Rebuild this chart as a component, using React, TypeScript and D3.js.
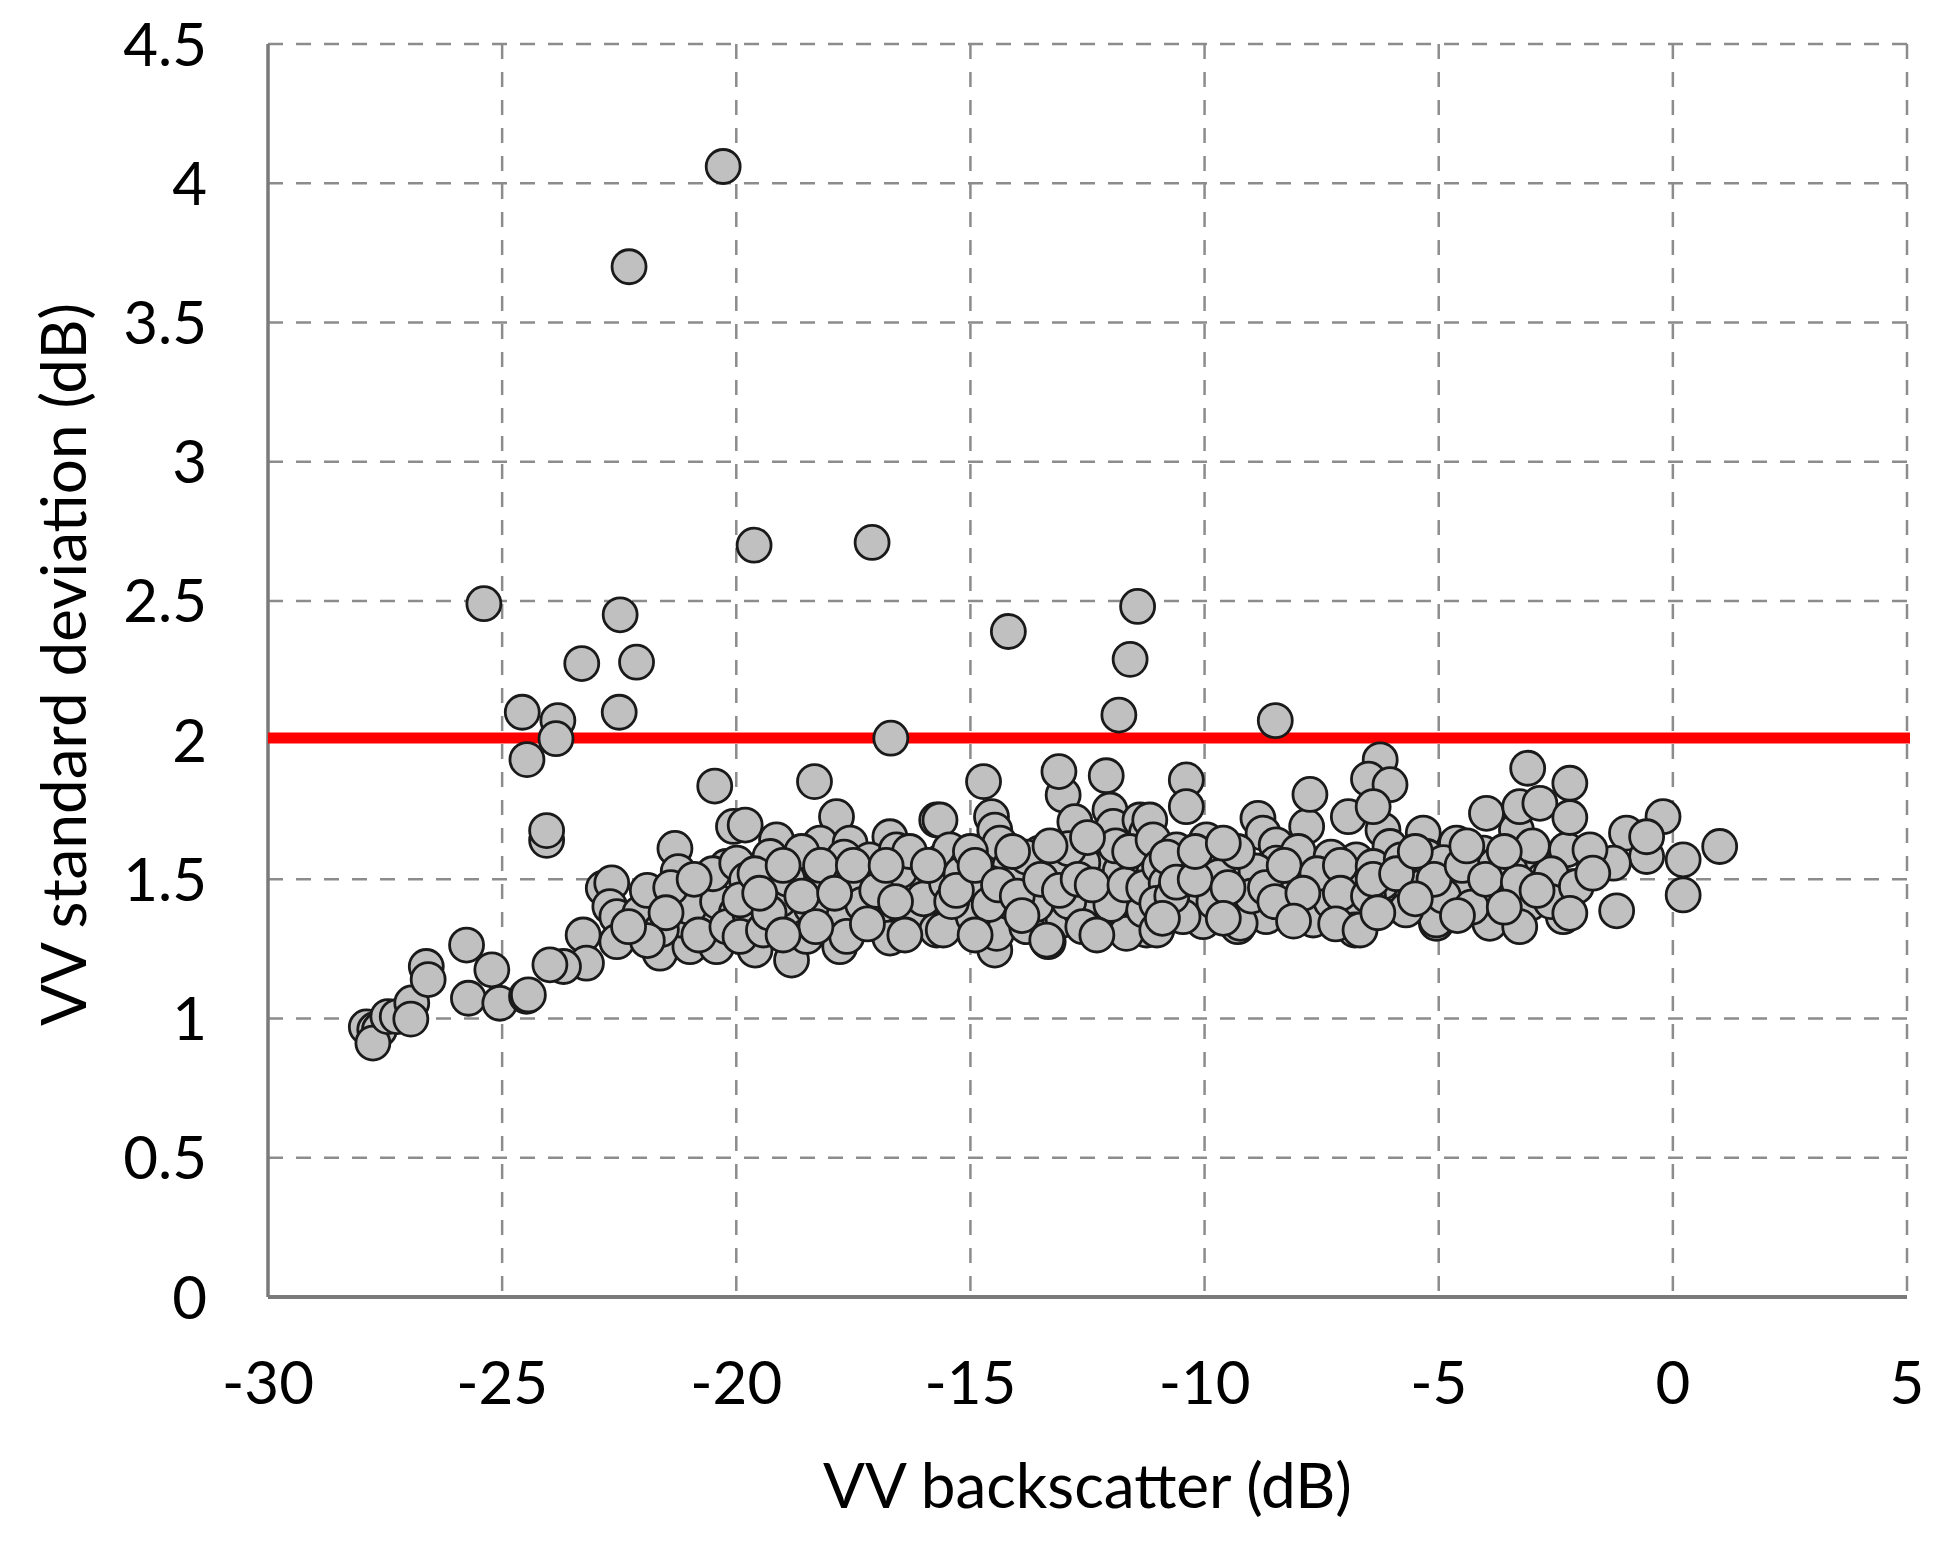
import React from "react";
import * as d3 from "d3";

// ---------- data (VV backscatter dB, VV standard deviation dB) ----------
const xTicks = [-30, -25, -20, -15, -10, -5, 0, 5];
const yTicks = [0, 0.5, 1, 1.5, 2, 2.5, 3, 3.5, 4, 4.5];
const threshold = 2;
const xTitle = "VV backscatter (dB)";
const yTitle = "VV standard deviation (dB)";

const leftTail: [number, number][] = [
  [-27.9, 0.97], [-27.72, 0.96], [-27.62, 0.96], [-27.76, 0.912], [-27.44, 1.007],
  [-27.24, 1.007], [-26.93, 1.056], [-26.95, 0.998], [-26.62, 1.187], [-26.58, 1.14],
  [-25.76, 1.264], [-25.22, 1.175], [-25.72, 1.073], [-25.05, 1.055], [-24.48, 1.08],
];

const outliers: [number, number][] = [
  [-20.28, 4.06], [-22.29, 3.7], [-19.62, 2.7], [-17.1, 2.71], [-25.39, 2.49],
  [-22.48, 2.45], [-22.13, 2.28], [-23.3, 2.275], [-22.5, 2.1], [-24.57, 2.1],
  [-23.81, 2.07], [-23.85, 2.005], [-24.47, 1.93], [-14.19, 2.39], [-11.43, 2.48],
  [-11.59, 2.29], [-11.83, 2.09], [-8.49, 2.07], [-16.7, 2.007],
];

const upperEdge: [number, number][] = [
  [-24.05, 1.64], [-24.05, 1.675], [-20.46, 1.835], [-18.33, 1.851], [-14.72, 1.851],
  [-13.11, 1.887], [-12.1, 1.872], [-10.39, 1.857], [-10.39, 1.761], [-6.25, 1.929],
  [-6.5, 1.86], [-6.04, 1.84], [-6.4, 1.761], [-7.75, 1.805], [-3.1, 1.899],
  [-2.2, 1.845], [-2.2, 1.722], [-0.21, 1.725], [1.0, 1.618], [0.22, 1.57],
  [0.22, 1.444], [-0.99, 1.666], [-0.56, 1.582], [-0.56, 1.653], [-1.27, 1.558],
  [-1.2, 1.387], [-1.77, 1.606], [-2.06, 1.474], [-1.71, 1.522], [-2.2, 1.378],
];

const clusterWest: [number, number][] = [
  [-20.06, 1.69], [-21.31, 1.611], [-21.24, 1.528], [-22.84, 1.468], [-22.66, 1.487],
  [-21.7, 1.438], [-22.7, 1.402], [-22.55, 1.366], [-22.55, 1.276], [-23.27, 1.3],
  [-23.2, 1.199], [-23.69, 1.187], [-23.98, 1.193], [-24.44, 1.085], [-21.98, 1.33],
  [-22.06, 1.378], [-21.63, 1.235], [-20.99, 1.258], [-20.42, 1.258], [-21.28, 1.402],
  [-20.78, 1.474], [-20.63, 1.354], [-20.21, 1.546], [-20.13, 1.45], [-21.2, 1.354],
  [-21.6, 1.32], [-21.0, 1.4], [-20.4, 1.42], [-20.0, 1.38], [-20.5, 1.52],
  [-21.9, 1.46], [-21.4, 1.47], [-20.9, 1.5], [-21.5, 1.38], [-20.8, 1.3],
  [-20.2, 1.33], [-21.9, 1.28], [-22.3, 1.33],
];

const clusterMidWest: [number, number][] = [
  [-15.72, 1.713], [-19.81, 1.695], [-17.86, 1.725], [-18.21, 1.63], [-19.14, 1.642],
  [-17.57, 1.63], [-16.72, 1.653], [-19.28, 1.582], [-19.99, 1.558], [-18.0, 1.522],
  [-17.22, 1.51], [-16.15, 1.558], [-15.58, 1.57], [-18.71, 1.558], [-19.21, 1.474],
  [-19.78, 1.498], [-18.36, 1.45], [-17.64, 1.438], [-16.79, 1.462], [-15.86, 1.474],
  [-19.71, 1.378], [-18.85, 1.354], [-17.79, 1.354], [-16.93, 1.402], [-16.29, 1.378],
  [-15.72, 1.318], [-19.6, 1.246], [-18.82, 1.21], [-17.79, 1.258], [-17.64, 1.295],
  [-18.5, 1.295], [-16.72, 1.289], [-19.92, 1.295], [-19.42, 1.318], [-19.92, 1.426],
  [-19.07, 1.426], [-17.15, 1.57], [-16.58, 1.606], [-16.15, 1.51], [-19.6, 1.52],
  [-18.9, 1.5], [-18.1, 1.48], [-17.4, 1.5], [-16.5, 1.53], [-19.3, 1.38],
  [-18.4, 1.4], [-17.3, 1.41], [-16.0, 1.43], [-18.6, 1.6], [-17.7, 1.58],
  [-19.5, 1.45], [-19.0, 1.55], [-18.6, 1.44], [-18.2, 1.55], [-17.9, 1.45],
  [-17.5, 1.55], [-17.0, 1.46], [-16.6, 1.42], [-16.3, 1.6], [-18.3, 1.33],
  [-17.2, 1.34], [-16.4, 1.3], [-19.0, 1.3], [-16.8, 1.55],
];

const clusterCentre: [number, number][] = [
  [-15.65, 1.713], [-14.55, 1.725], [-14.48, 1.677], [-15.44, 1.606], [-14.37, 1.63],
  [-13.52, 1.594], [-15.08, 1.546], [-14.16, 1.546], [-13.23, 1.546], [-12.23, 1.594],
  [-12.31, 1.534], [-11.52, 1.57], [-11.09, 1.522], [-15.51, 1.486], [-14.59, 1.486],
  [-13.73, 1.498], [-12.88, 1.498], [-11.95, 1.474], [-15.08, 1.438], [-14.23, 1.438],
  [-13.37, 1.45], [-12.52, 1.438], [-11.52, 1.438], [-15.22, 1.378], [-14.37, 1.366],
  [-13.59, 1.342], [-13.02, 1.354], [-12.23, 1.366], [-11.66, 1.318], [-11.24, 1.318],
  [-15.58, 1.318], [-14.48, 1.246], [-14.44, 1.306], [-13.34, 1.276], [-13.8, 1.33],
  [-14.94, 1.366], [-12.66, 1.39], [-13.02, 1.803], [-12.77, 1.707], [-12.02, 1.749],
  [-11.95, 1.69], [-11.38, 1.713], [-11.24, 1.666], [-13.37, 1.282], [-11.67, 1.306],
  [-15.9, 1.55], [-15.2, 1.52], [-14.8, 1.5], [-13.9, 1.52], [-13.0, 1.53],
  [-12.6, 1.56], [-11.8, 1.53], [-15.4, 1.42], [-14.6, 1.41], [-13.6, 1.41],
  [-12.9, 1.42], [-12.0, 1.41], [-11.3, 1.39], [-15.0, 1.6], [-13.8, 1.58],
  [-12.9, 1.61], [-11.9, 1.62], [-15.3, 1.46], [-14.9, 1.55], [-14.4, 1.48],
  [-14.0, 1.44], [-13.5, 1.5], [-13.1, 1.46], [-12.7, 1.5], [-12.4, 1.48],
  [-11.7, 1.48], [-11.3, 1.47], [-14.1, 1.6], [-13.3, 1.62], [-12.5, 1.65],
  [-11.6, 1.6], [-14.9, 1.3], [-13.9, 1.37], [-12.6, 1.33], [-12.3, 1.3],
];

const clusterEast: [number, number][] = [
  [-7.82, 1.69], [-6.93, 1.725], [-8.86, 1.719], [-8.75, 1.666], [-8.47, 1.624],
  [-11.17, 1.713], [-11.1, 1.642], [-10.6, 1.606], [-9.96, 1.642], [-9.53, 1.57],
  [-10.1, 1.558], [-10.96, 1.546], [-8.47, 1.558], [-7.9, 1.546], [-7.26, 1.522],
  [-6.76, 1.57], [-10.82, 1.486], [-9.9, 1.462], [-9.11, 1.498], [-8.4, 1.474],
  [-7.55, 1.462], [-6.68, 1.474], [-11.02, 1.414], [-10.31, 1.402], [-9.31, 1.402],
  [-8.6, 1.39], [-7.82, 1.402], [-6.96, 1.402], [-11.02, 1.318], [-10.03, 1.348],
  [-9.29, 1.33], [-8.68, 1.366], [-7.72, 1.36], [-6.79, 1.318], [-10.46, 1.366],
  [-7.55, 1.378], [-9.24, 1.342], [-7.68, 1.354], [-10.5, 1.52], [-9.7, 1.51],
  [-8.9, 1.53], [-8.1, 1.5], [-7.0, 1.5], [-10.7, 1.44], [-9.8, 1.42],
  [-9.0, 1.44], [-8.2, 1.43], [-7.3, 1.42], [-10.8, 1.58], [-9.3, 1.6],
  [-8.0, 1.6], [-7.3, 1.58], [-10.6, 1.49], [-10.2, 1.5], [-9.5, 1.47],
  [-8.7, 1.47], [-8.3, 1.55], [-7.6, 1.52], [-7.1, 1.55], [-10.2, 1.6],
  [-9.6, 1.63], [-8.5, 1.42], [-7.9, 1.45], [-7.1, 1.45], [-10.9, 1.36],
  [-9.6, 1.36], [-8.1, 1.35], [-7.2, 1.34],
];

const clusterFarEast: [number, number][] = [
  [-5.33, 1.666], [-6.19, 1.677], [-4.62, 1.63], [-3.34, 1.677], [-2.27, 1.606],
  [-6.04, 1.618], [-5.26, 1.582], [-4.05, 1.594], [-2.98, 1.57], [-6.4, 1.546],
  [-5.61, 1.522], [-4.69, 1.534], [-3.48, 1.534], [-2.77, 1.498], [-2.13, 1.474],
  [-6.11, 1.426], [-5.26, 1.414], [-4.62, 1.42], [-3.98, 1.45], [-3.48, 1.438],
  [-3.05, 1.414], [-6.68, 1.318], [-5.05, 1.342], [-3.91, 1.342], [-3.27, 1.33],
  [-2.34, 1.366], [-5.83, 1.474], [-4.26, 1.51], [-3.98, 1.737], [-3.27, 1.761],
  [-2.84, 1.773], [-5.05, 1.354], [-6.2, 1.49], [-5.4, 1.47], [-4.4, 1.47],
  [-3.7, 1.49], [-2.6, 1.52], [-6.5, 1.44], [-5.7, 1.39], [-4.9, 1.44],
  [-4.3, 1.4], [-2.6, 1.42], [-5.8, 1.57], [-4.9, 1.56], [-3.8, 1.55],
  [-3.0, 1.62], [-6.4, 1.5], [-5.9, 1.52], [-5.1, 1.5], [-4.5, 1.55],
  [-4.0, 1.5], [-3.3, 1.49], [-2.9, 1.46], [-5.5, 1.43], [-4.6, 1.37],
  [-3.6, 1.4], [-6.3, 1.38], [-5.5, 1.6], [-4.4, 1.62], [-3.6, 1.6],
];

const allPoints = [
  ...leftTail, ...clusterWest, ...clusterMidWest, ...clusterCentre,
  ...clusterEast, ...clusterFarEast, ...upperEdge, ...outliers,
];

// ---------- layout ----------
const W = 1945;
const H = 1547;
const X0 = 268, X1 = 1907, Y0 = 1297, Y1 = 44;
const FONT = "Lato, 'Open Sans', sans-serif";

export default function App() {
  const x = d3.scaleLinear().domain([-30, 5]).range([X0, X1]);
  const y = d3.scaleLinear().domain([0, 4.5]).range([Y0, Y1]);
  const gridColor = "#8c8c8c";
  return (
    <svg
      width={W}
      height={H}
      style={{ position: "absolute", left: 0, top: 0, background: "#fff" }}
    >
      {/* horizontal gridlines */}
      {yTicks.filter((t) => t > 0).map((t) => (
        <line key={"hy" + t} x1={X0} x2={X1} y1={y(t)} y2={y(t)}
          stroke={gridColor} strokeWidth={2.5} strokeDasharray="15,13" />
      ))}
      {/* vertical gridlines */}
      {xTicks.filter((t) => t > -30).map((t) => (
        <line key={"vx" + t} x1={x(t)} x2={x(t)} y1={Y1} y2={Y0}
          stroke={gridColor} strokeWidth={2.5} strokeDasharray="15,13" />
      ))}
      {/* axes */}
      <line x1={X0} x2={X0} y1={Y1} y2={Y0} stroke="#7a7a7a" strokeWidth={3.5} />
      <line x1={X0} x2={X1} y1={Y0} y2={Y0} stroke="#7a7a7a" strokeWidth={4} />

      {/* threshold line */}
      <line x1={X0} x2={X1 + 3} y1={y(threshold) - 2} y2={y(threshold) - 2}
        stroke="#ff0000" strokeWidth={11} />

      {/* points */}
      {allPoints.map((p, i) => (
        <circle key={i} cx={x(p[0])} cy={y(p[1])} r={17}
          fill="#c0c0c0" stroke="#1a1a1a" strokeWidth={2.8} />
      ))}

      {/* y tick labels */}
      {yTicks.map((t) => (
        <text key={"ly" + t} x={207} y={y(t)} dy="0.36em" textAnchor="end"
          fontFamily={FONT} fontSize={60} fill="#000">{String(t)}</text>
      ))}
      {/* x tick labels */}
      {xTicks.map((t) => (
        <text key={"lx" + t} x={x(t)} y={1404} textAnchor="middle"
          fontFamily={FONT} fontSize={60} fill="#000">{String(t)}</text>
      ))}
      {/* titles */}
      <text x={(X0 + X1) / 2} y={1508} textAnchor="middle" fontFamily={FONT}
        fontSize={62} fill="#000">{xTitle}</text>
      <text transform={`translate(86,${(Y0 + Y1) / 2 - 6}) rotate(-90)`}
        textAnchor="middle" fontFamily={FONT} fontSize={62} fill="#000">{yTitle}</text>
    </svg>
  );
}
